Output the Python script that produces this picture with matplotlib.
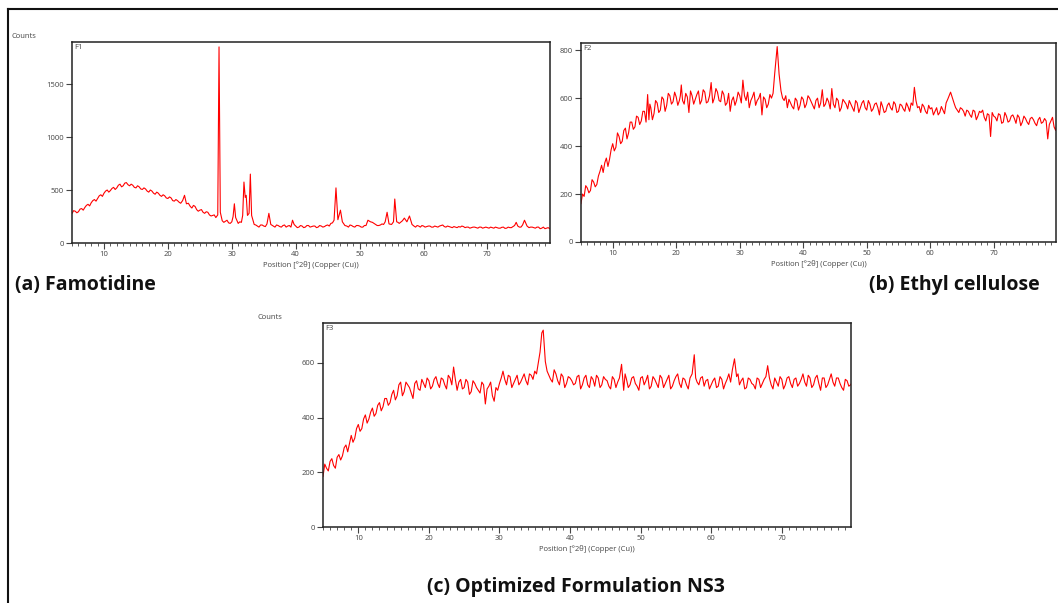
import numpy as np
import matplotlib
matplotlib.use("Agg")
import matplotlib.pyplot as plt
from matplotlib.lines import Line2D
from matplotlib.ticker import MultipleLocator

# ---------------------------------------------------------------
# Datos leidos del difractograma (posicion 2theta, cuentas)
# ---------------------------------------------------------------
theta_f1 = [5.0, 5.5, 6.0, 6.5, 7.0, 7.5, 8.0, 8.5, 9.0, 9.5,
            10.0, 10.5, 11.0, 11.5, 12.0, 12.5, 13.0, 13.5, 14.0, 14.5,
            15.0, 15.5, 16.0, 16.5, 17.0, 17.5, 18.0, 18.5, 19.0, 19.5,
            20.0, 20.5, 21.0, 21.5, 22.0, 22.3, 22.6, 22.9, 23.5, 24.0,
            24.5, 25.0, 25.5, 26.0, 26.5, 27.0, 27.5, 27.8, 28.0, 28.2,
            28.5, 29.0, 29.5, 30.0, 30.2, 30.4, 30.6, 31.0, 31.5, 31.7,
            31.9, 32.1, 32.25, 32.45, 32.7, 32.9, 33.1, 33.5, 34.0, 34.5,
            35.0, 35.5, 35.8, 36.1, 36.5, 37.0, 37.5, 38.0, 38.5, 39.0,
            39.5, 40.0, 40.5, 41.0, 41.5, 42.0, 42.5, 43.0, 43.5, 44.0,
            44.5, 45.0, 45.5, 46.0, 46.3, 46.6, 47.0, 47.3, 47.7, 48.0,
            48.5, 49.0, 49.5, 50.0, 50.5, 51.0, 51.3, 51.7, 52.0, 52.5,
            53.0, 53.5, 54.0, 54.3, 54.6, 55.0, 55.3, 55.5, 55.8, 56.2,
            56.7, 57.0, 57.4, 57.8, 58.2, 58.5, 59.0, 59.5, 60.0, 60.5,
            61.0, 61.5, 62.0, 62.5, 63.0, 63.5, 64.0, 64.5, 65.0, 65.5,
            66.0, 66.5, 67.0, 67.5, 68.0, 68.5, 69.0, 69.5, 70.0, 70.5,
            71.0, 71.5, 72.0, 72.5, 73.0, 73.5, 74.0, 74.5, 75.0, 75.5,
            75.8, 76.2, 76.5, 77.0, 77.5, 78.0, 78.5, 79.0, 79.5, 80.0]
counts_f1 = [280, 300, 295, 325, 335, 365, 380, 410, 420, 455,
             470, 500, 495, 525, 520, 555, 540, 570, 540, 545,
             520, 530, 505, 510, 480, 490, 460, 470, 440, 445,
             420, 425, 395, 400, 375, 400, 450, 370, 345, 355,
             315, 310, 290, 295, 265, 260, 240, 265, 1850, 290,
             210, 205, 190, 200, 250, 370, 240, 185, 195, 260,
             575, 430, 450, 260, 280, 650, 260, 175, 160, 170,
             160, 180, 280, 175, 160, 170, 155, 165, 150, 165,
             215, 160, 150, 160, 150, 165, 155, 160, 150, 160,
             155, 170, 185, 215, 520, 220, 310, 200, 165, 160,
             170, 155, 165, 160, 150, 165, 215, 200, 195, 175,
             165, 180, 200, 290, 180, 175, 200, 415, 200, 185,
             210, 235, 200, 255, 175, 160, 165, 150, 160, 155,
             160, 150, 155, 160, 170, 150, 155, 145, 150, 155,
             160, 145, 150, 145, 150, 140, 150, 145, 145, 150,
             140, 145, 140, 150, 140, 145, 155, 195, 150, 170,
             215, 160, 145, 150, 140, 150, 140, 135, 145, 140]
# puntos intermedios (ruido de fondo)
theta_f1_extra = [5.25, 5.75, 6.25, 6.75, 7.25, 7.75, 8.25, 8.75, 9.25, 9.75,
                  10.25, 10.75, 11.25, 11.75, 12.25, 12.75, 13.25, 13.75, 14.25, 14.75,
                  15.25, 15.75, 16.25, 16.75, 17.25, 17.75, 18.25, 18.75, 19.25, 19.75,
                  20.25, 20.75, 21.25, 21.75, 23.2, 23.75, 24.25, 24.75, 25.25, 25.75,
                  26.25, 26.75, 27.25, 28.75, 29.25, 29.75, 31.25, 33.75, 34.25, 34.75,
                  35.25, 36.75, 37.25, 37.75, 38.25, 38.75, 39.25, 39.75, 40.25, 40.75,
                  41.25, 41.75, 42.25, 42.75, 43.25, 43.75, 44.25, 44.75, 45.25, 45.75,
                  48.25, 48.75, 49.25, 49.75, 50.25, 50.75, 52.25, 52.75, 53.25, 53.75,
                  56.0, 58.75, 59.25, 59.75, 60.25, 60.75, 61.25, 61.75, 62.25, 62.75,
                  63.25, 63.75, 64.25, 64.75, 65.25, 65.75, 66.25, 66.75, 67.25, 67.75,
                  68.25, 68.75, 69.25, 69.75, 70.25, 70.75, 71.25, 71.75, 72.25, 72.75,
                  73.25, 73.75, 74.25, 74.75, 75.25, 76.75, 77.25, 77.75, 78.25, 78.75,
                  79.25, 79.75]
counts_f1_extra = [305, 285, 320, 310, 355, 350, 400, 395, 445, 440,
                   490, 480, 515, 505, 545, 530, 565, 550, 555, 525,
                   540, 510, 520, 490, 500, 470, 480, 450, 455, 425,
                   435, 400, 410, 385, 375, 330, 345, 300, 315, 280,
                   290, 255, 265, 195, 215, 185, 200, 170, 150, 170,
                   155, 150, 165, 150, 170, 160, 150, 175, 145, 165,
                   145, 165, 150, 160, 145, 165, 150, 165, 160, 190,
                   150, 165, 150, 165, 150, 165, 185, 165, 170, 175,
                   195, 150, 160, 165, 150, 160, 150, 160, 150, 165,
                   155, 160, 150, 155, 145, 150, 155, 150, 140, 150,
                   145, 150, 140, 150, 140, 145, 150, 140, 148, 138,
                   150, 145, 165, 160, 150, 150, 145, 150, 135, 150,
                   140, 135]

theta_f2 = [5.0, 5.25, 5.5, 6.0, 6.5, 7.0, 7.5, 8.0, 8.5, 9.0,
            9.5, 10.0, 10.5, 11.0, 11.5, 12.0, 12.5, 13.0, 13.5, 14.0,
            14.5, 15.0, 15.5, 15.7, 16.0, 16.5, 17.0, 17.5, 18.0, 18.5,
            19.0, 19.5, 20.0, 20.5, 20.8, 21.0, 21.5, 22.0, 22.5, 23.0,
            23.5, 24.0, 24.5, 25.0, 25.5, 26.0, 26.5, 27.0, 27.5, 28.0,
            28.5, 29.0, 29.5, 30.0, 30.5, 31.0, 31.5, 32.0, 32.5, 33.0,
            33.5, 34.0, 34.5, 35.0, 35.5, 35.9, 36.2, 36.5, 37.0, 37.5,
            38.0, 38.5, 39.0, 39.5, 40.0, 40.5, 41.0, 41.5, 42.0, 42.5,
            43.0, 43.5, 44.0, 44.5, 45.0, 45.5, 46.0, 46.5, 47.0, 47.5,
            48.0, 48.5, 49.0, 49.5, 50.0, 50.5, 51.0, 51.5, 52.0, 52.5,
            53.0, 53.5, 54.0, 54.5, 55.0, 55.5, 56.0, 56.5, 57.0, 57.5,
            58.0, 58.5, 59.0, 59.5, 60.0, 60.5, 61.0, 61.5, 62.0, 62.5,
            63.2, 63.8, 64.5, 65.0, 65.5, 66.0, 66.5, 67.0, 67.5, 68.0,
            68.5, 69.0, 69.5, 70.0, 70.5, 71.0, 71.5, 72.0, 72.5, 73.0,
            73.5, 74.0, 74.5, 75.0, 75.5, 76.0, 76.5, 77.0, 77.5, 78.0,
            78.5, 79.0, 79.5, 80.0]
counts_f2 = [160, 200, 190, 225, 215, 250, 240, 295, 290, 350,
             345, 410, 395, 440, 420, 475, 455, 500, 480, 520,
             505, 545, 615, 510, 560, 535, 580, 550, 595, 570,
             610, 585, 605, 590, 655, 590, 620, 540, 610, 595,
             630, 590, 625, 585, 665, 600, 625, 585, 615, 580,
             545, 605, 590, 610, 675, 590, 560, 605, 570, 600,
             530, 595, 575, 600, 700, 815, 700, 630, 590, 560,
             580, 555, 590, 570, 595, 575, 600, 570, 590, 560,
             635, 575, 585, 640, 560, 590, 560, 585, 555, 575,
             545, 580, 560, 590, 550, 575, 555, 580, 530, 565,
             545, 580, 550, 575, 545, 570, 545, 565, 580, 645,
             560, 540, 565, 535, 555, 530, 560, 540, 550, 580,
             625, 575, 540, 555, 525, 545, 520, 545, 525, 540,
             520, 535, 440, 525, 505, 530, 500, 525, 505, 530,
             495, 520, 500, 515, 490, 520, 495, 510, 495, 515,
             430, 505, 480, 500]
theta_f2_extra = [5.75, 6.25, 6.75, 7.25, 7.75, 8.25, 8.75, 9.25, 9.75, 10.25,
                  10.75, 11.25, 11.75, 12.25, 12.75, 13.25, 13.75, 14.25, 14.75, 15.25,
                  15.85, 16.25, 16.75, 17.25, 17.75, 18.25, 18.75, 19.25, 19.75, 20.25,
                  20.65, 21.25, 21.75, 22.25, 22.75, 23.25, 23.75, 24.25, 24.75, 25.25,
                  25.75, 26.25, 26.75, 27.25, 27.75, 28.25, 28.75, 29.25, 29.75, 30.25,
                  30.75, 31.25, 31.75, 32.25, 32.75, 33.25, 33.75, 34.25, 34.75, 35.25,
                  36.75, 37.25, 37.75, 38.25, 38.75, 39.25, 39.75, 40.25, 40.75, 41.25,
                  41.75, 42.25, 42.75, 43.25, 43.75, 44.25, 44.75, 45.25, 45.75, 46.25,
                  46.75, 47.25, 47.75, 48.25, 48.75, 49.25, 49.75, 50.25, 50.75, 51.25,
                  51.75, 52.25, 52.75, 53.25, 53.75, 54.25, 54.75, 55.25, 55.75, 56.25,
                  56.75, 57.25, 57.75, 58.25, 58.75, 59.25, 59.75, 60.25, 60.75, 61.25,
                  61.75, 62.25, 62.75, 63.5, 64.0, 64.75, 65.25, 65.75, 66.25, 66.75,
                  67.25, 67.75, 68.25, 68.75, 69.25, 69.75, 70.25, 70.75, 71.25, 71.75,
                  72.25, 72.75, 73.25, 73.75, 74.25, 74.75, 75.25, 75.75, 76.25, 76.75,
                  77.25, 77.75, 78.25, 78.75, 79.25, 79.75]
counts_f2_extra = [235, 205, 260, 230, 275, 320, 330, 315, 385, 380,
                   455, 410, 465, 430, 500, 470, 525, 490, 545, 500,
                   575, 510, 590, 540, 605, 545, 620, 575, 625, 570,
                   610, 575, 605, 630, 575, 615, 575, 635, 580, 610,
                   580, 640, 590, 630, 570, 620, 590, 570, 625, 580,
                   610, 625, 590, 625, 590, 620, 605, 560, 615, 620,
                   600, 610, 595, 565, 600, 550, 605, 560, 610, 585,
                   555, 600, 580, 565, 600, 555, 575, 600, 545, 595,
                   575, 590, 560, 590, 540, 580, 560, 590, 545, 575,
                   560, 585, 540, 570, 560, 585, 540, 575, 555, 580,
                   545, 570, 590, 565, 575, 545, 570, 560, 545, 530,
                   565, 535, 595, 600, 560, 560, 545, 550, 530, 550,
                   510, 545, 550, 505, 530, 540, 520, 535, 495, 540,
                   500, 525, 515, 530, 485, 525, 500, 515, 510, 485,
                   520, 500, 505, 490, 520, 465]

theta_f3 = [5.0, 5.25, 5.5, 6.0, 6.5, 7.0, 7.5, 8.0, 8.5, 9.0,
            9.5, 10.0, 10.5, 11.0, 11.5, 12.0, 12.5, 13.0, 13.5, 14.0,
            14.5, 15.0, 15.5, 16.0, 16.5, 17.0, 17.5, 18.0, 18.5, 19.0,
            19.5, 20.0, 20.5, 21.0, 21.5, 22.0, 22.5, 23.0, 23.5, 24.0,
            24.5, 25.0, 25.5, 26.0, 26.5, 27.0, 27.5, 28.0, 28.5, 29.0,
            29.5, 30.0, 30.5, 31.0, 31.5, 32.0, 32.5, 33.0, 33.5, 34.0,
            34.5, 35.0, 35.5, 36.0, 36.2, 36.5, 37.0, 37.5, 38.0, 38.5,
            39.0, 39.5, 40.0, 40.5, 41.0, 41.5, 42.0, 42.5, 43.0, 43.5,
            44.0, 44.5, 45.0, 45.5, 46.0, 46.5, 47.0, 47.3, 47.6, 48.0,
            48.5, 49.0, 49.5, 50.0, 50.5, 51.0, 51.5, 52.0, 52.5, 53.0,
            53.5, 54.0, 54.5, 55.0, 55.5, 56.0, 56.5, 57.0, 57.6, 58.0,
            58.5, 59.0, 59.5, 60.0, 60.5, 61.0, 61.5, 62.0, 62.5, 63.0,
            63.3, 63.6, 64.0, 64.5, 65.0, 65.5, 66.0, 66.5, 67.0, 67.5,
            68.0, 68.5, 69.0, 69.5, 70.0, 70.5, 71.0, 71.5, 72.0, 72.5,
            73.0, 73.5, 74.0, 74.5, 75.0, 75.5, 76.0, 76.5, 77.0, 77.5,
            78.0, 78.5, 79.0, 79.5, 80.0]
counts_f3 = [185, 230, 215, 240, 225, 255, 245, 290, 275, 335,
             325, 375, 360, 410, 395, 435, 415, 455, 440, 470,
             455, 500, 480, 530, 495, 520, 490, 525, 505, 540,
             510, 535, 515, 550, 510, 540, 505, 545, 585, 500,
             540, 510, 530, 495, 525, 500, 530, 450, 515, 480,
             510, 525, 570, 520, 550, 525, 555, 530, 560, 520,
             555, 570, 600, 710, 720, 605, 555, 530, 560, 520,
             550, 525, 545, 520, 550, 505, 545, 520, 550, 515,
             545, 520, 540, 515, 550, 510, 545, 595, 500, 540,
             520, 550, 515, 545, 520, 555, 515, 540, 510, 545,
             525, 555, 515, 550, 525, 545, 520, 545, 630, 530,
             545, 515, 540, 520, 545, 515, 540, 525, 560, 575,
             615, 550, 520, 545, 510, 540, 520, 545, 510, 540,
             590, 520, 545, 515, 540, 520, 550, 510, 545, 525,
             560, 515, 545, 520, 555, 500, 545, 520, 560, 515,
             545, 510, 540, 515, 530]
theta_f3_extra = [5.75, 6.25, 6.75, 7.25, 7.75, 8.25, 8.75, 9.25, 9.75, 10.25,
                  10.75, 11.25, 11.75, 12.25, 12.75, 13.25, 13.75, 14.25, 14.75, 15.25,
                  15.75, 16.25, 16.75, 17.25, 17.75, 18.25, 18.75, 19.25, 19.75, 20.25,
                  20.75, 21.25, 21.75, 22.25, 22.75, 23.25, 23.75, 24.25, 24.75, 25.25,
                  25.75, 26.25, 26.75, 27.25, 27.75, 28.25, 28.75, 29.25, 29.75, 30.25,
                  30.75, 31.25, 31.75, 32.25, 32.75, 33.25, 33.75, 34.25, 34.75, 35.25,
                  35.75, 36.75, 37.25, 37.75, 38.25, 38.75, 39.25, 39.75, 40.25, 40.75,
                  41.25, 41.75, 42.25, 42.75, 43.25, 43.75, 44.25, 44.75, 45.25, 45.75,
                  46.25, 46.75, 47.8, 48.25, 48.75, 49.25, 49.75, 50.25, 50.75, 51.25,
                  51.75, 52.25, 52.75, 53.25, 53.75, 54.25, 54.75, 55.25, 55.75, 56.25,
                  56.75, 57.3, 57.8, 58.25, 58.75, 59.25, 59.75, 60.25, 60.75, 61.25,
                  61.75, 62.25, 62.75, 63.8, 64.25, 64.75, 65.25, 65.75, 66.25, 66.75,
                  67.25, 67.75, 68.25, 68.75, 69.25, 69.75, 70.25, 70.75, 71.25, 71.75,
                  72.25, 72.75, 73.25, 73.75, 74.25, 74.75, 75.25, 75.75, 76.25, 76.75,
                  77.25, 77.75, 78.25, 78.75, 79.25, 79.75]
counts_f3_extra = [205, 250, 215, 265, 260, 300, 305, 310, 360, 350,
                   395, 380, 420, 405, 445, 425, 470, 445, 485, 465,
                   520, 480, 530, 510, 470, 535, 500, 525, 545, 505,
                   540, 525, 545, 520, 555, 520, 540, 530, 505, 540,
                   485, 535, 510, 490, 520, 505, 530, 460, 500, 545,
                   540, 555, 510, 540, 520, 545, 535, 560, 540, 560,
                   640, 570, 540, 575, 535, 560, 510, 550, 535, 525,
                   555, 520, 555, 510, 540, 555, 510, 550, 535, 505,
                   540, 530, 560, 510, 545, 525, 500, 550, 535, 505,
                   550, 525, 555, 510, 540, 505, 535, 560, 510, 540,
                   505, 560, 545, 520, 550, 535, 505, 535, 510, 550,
                   505, 540, 530, 560, 535, 505, 545, 525, 505, 540,
                   525, 550, 545, 505, 530, 550, 505, 545, 525, 540,
                   515, 540, 530, 555, 510, 545, 525, 545, 510, 540,
                   530, 545, 525, 500, 535, 520]


def juntar(x1, y1, x2, y2):
    # une los puntos principales con los intermedios, ordenados por 2theta
    x = np.array(x1 + x2)
    y = np.array(y1 + y2)
    orden = np.argsort(x)
    return x[orden], y[orden]


# ---------------------------------------------------------------
# Figura
# ---------------------------------------------------------------
plt.rcParams['font.family'] = ['Open Sans', 'DejaVu Sans']
fig = plt.figure(figsize=(10.58, 6.03), dpi=100)

rojo = '#ff0000'
gris = '#444444'


def panel(rect, x, y, nombre, ymax, yticks, counts_xy=None):
    ax = fig.add_axes(rect)
    ax.plot(x, y, color=rojo, lw=0.8)
    ax.set_xlim(5, 79.8)
    ax.set_ylim(0, ymax)
    ax.set_xticks([10, 20, 30, 40, 50, 60, 70])
    ax.xaxis.set_minor_locator(MultipleLocator(1))
    ax.set_yticks(yticks)
    ax.tick_params(axis='both', which='major', direction='out', length=4,
                   width=0.8, color=gris, labelsize=5.5, labelcolor=gris, pad=2)
    ax.tick_params(axis='x', which='minor', direction='out', length=2,
                   width=0.6, color=gris)
    for s in ax.spines.values():
        s.set_linewidth(1.1)
        s.set_color('#222222')
    ax.set_xlabel('Position [°2θ] (Copper (Cu))', fontsize=5.5, color=gris, labelpad=2)
    ax.text(0.005, 0.99, nombre, transform=ax.transAxes, fontsize=5.5,
            color=gris, ha='left', va='top')
    if counts_xy is not None:
        fig.text(counts_xy[0], counts_xy[1], 'Counts', fontsize=5.5, color=gris,
                 ha='left', va='center')
    return ax


x1, y1 = juntar(theta_f1, counts_f1, theta_f1_extra, counts_f1_extra)
x2, y2 = juntar(theta_f2, counts_f2, theta_f2_extra, counts_f2_extra)
x3, y3 = juntar(theta_f3, counts_f3, theta_f3_extra, counts_f3_extra)

panel([0.0681, 0.597, 0.4518, 0.3333], x1, y1, 'F1', 1896,
      [0, 500, 1000, 1500], counts_xy=(0.0113, 0.940))
panel([0.5491, 0.5987, 0.449, 0.330], x2, y2, 'F2', 830,
      [0, 200, 400, 600, 800])
panel([0.3053, 0.126, 0.499, 0.3383], x3, y3, 'F3', 746,
      [0, 200, 400, 600], counts_xy=(0.243, 0.473))

# Titulos de cada difractograma
fig.text(0.0142, 0.527, '(a) Famotidine', fontsize=14, fontweight='bold',
         ha='left', va='center', color='#111111')
fig.text(0.983, 0.527, '(b) Ethyl cellulose', fontsize=14, fontweight='bold',
         ha='right', va='center', color='#111111')
fig.text(0.544, 0.027, '(c) Optimized Formulation NS3', fontsize=14,
         fontweight='bold', ha='center', va='center', color='#111111')

# Marco exterior (solo izquierda y arriba)
fig.add_artist(Line2D([0.0076, 0.0076], [0.0, 0.985], color='#111111', lw=1.5))
fig.add_artist(Line2D([0.0076, 1.0], [0.985, 0.985], color='#111111', lw=1.5))

fig.savefig('out.png', dpi=100)
